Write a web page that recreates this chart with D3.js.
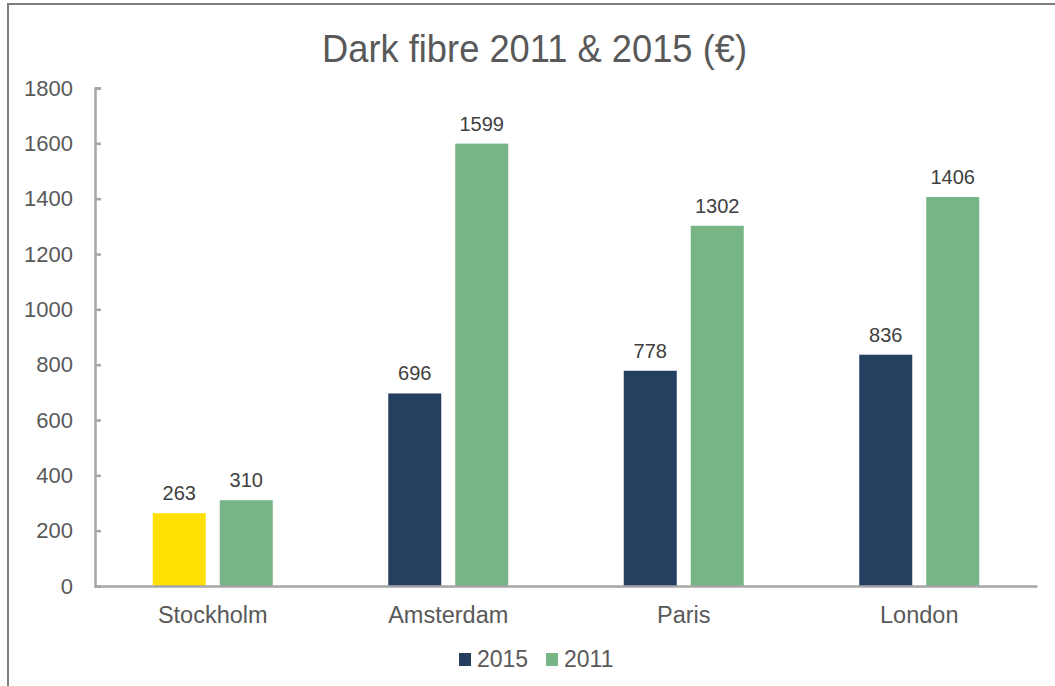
<!DOCTYPE html>
<html>
<head>
<meta charset="utf-8">
<script src="https://cdn.jsdelivr.net/npm/d3@7"></script>
<style>
  html, body { margin: 0; padding: 0; background: #fff; }
  svg { display: block; font-family: "Liberation Sans", Arial, sans-serif; }
</style>
</head>
<body>
<svg id="chart" width="1055" height="686"></svg>
<script>
// Dark fibre prices per city, 2015 vs 2011 (€)
const cities = ["Stockholm", "Amsterdam", "Paris", "London"];
const seriesNames = ["2015", "2011"];
const values2015 = [263, 696, 778, 836];
const values2011 = [310, 1599, 1302, 1406];
const yTicks = [0, 200, 400, 600, 800, 1000, 1200, 1400, 1600, 1800];

const colors = { "2015": "#243F60", "2011": "#77B486" };
const highlight = { city: "Stockholm", series: "2015", color: "#FFE000" };

const svg = d3.select("#chart");
const W = 1055, H = 686;
const plot = { left: 95, right: 1037, top: 88, bottom: 586 };
const FONT = "Liberation Sans, Arial, sans-serif";

// outer frame (top and left edges)
svg.append("line").attr("x1", 7).attr("x2", W).attr("y1", 4).attr("y2", 4)
  .attr("stroke", "#7f7f7f").attr("stroke-width", 2);
svg.append("line").attr("x1", 8).attr("x2", 8).attr("y1", 3).attr("y2", H)
  .attr("stroke", "#7f7f7f").attr("stroke-width", 2);

// title
svg.append("text").attr("x", 322).attr("y", 62)
  .attr("font-size", 39).attr("fill", "#595959")
  .attr("textLength", 425).attr("lengthAdjust", "spacingAndGlyphs")
  .text("Dark fibre 2011 & 2015 (€)");

const x0 = d3.scaleBand().domain(cities).range([plot.left, plot.right]);
const x1 = d3.scaleBand().domain(seriesNames)
  .range([x0.bandwidth() / 2 - 60, x0.bandwidth() / 2 + 60]).paddingInner(0.209);
const y = d3.scaleLinear().domain([0, 1800]).range([plot.bottom, plot.top]);

const rows = cities.map((c, i) => ({ city: c, "2015": values2015[i], "2011": values2011[i] }));

// y axis
const yAxis = svg.append("g").attr("transform", `translate(${plot.left},0)`)
  .call(d3.axisLeft(y).tickValues(yTicks).tickFormat(d3.format("d"))
    .tickSizeInner(-6).tickSizeOuter(-6).tickPadding(22));
yAxis.select(".domain").attr("stroke", "#a6a6a6").attr("stroke-width", 2.5);
yAxis.selectAll(".tick line").attr("stroke", "#a6a6a6").attr("stroke-width", 2.5);
yAxis.selectAll(".tick text").attr("font-size", 22).attr("fill", "#595959")
  .attr("font-family", FONT);

// bars
const groups = svg.append("g").selectAll("g").data(rows).join("g")
  .attr("transform", d => `translate(${x0(d.city)},0)`);

groups.selectAll("rect").data(d => seriesNames.map(s => ({ city: d.city, s, v: d[s] })))
  .join("rect")
  .attr("x", d => x1(d.s))
  .attr("width", x1.bandwidth())
  .attr("y", d => y(d.v))
  .attr("height", d => y(0) - y(d.v))
  .attr("fill", d => (d.city === highlight.city && d.s === highlight.series) ? highlight.color : colors[d.s]);

groups.selectAll("text.val").data(d => seriesNames.map(s => ({ s, v: d[s] })))
  .join("text").attr("class", "val")
  .attr("x", d => x1(d.s) + x1.bandwidth() / 2)
  .attr("y", d => y(d.v) - 13)
  .attr("text-anchor", "middle")
  .attr("font-size", 20).attr("fill", "#404040")
  .text(d => d.v);

// x axis
const xAxis = svg.append("g").attr("transform", `translate(0,${plot.bottom})`)
  .call(d3.axisBottom(x0).tickSize(0).tickPadding(20));
xAxis.select(".domain").attr("stroke", "#a6a6a6").attr("stroke-width", 2.5);
xAxis.selectAll(".tick text").attr("font-size", 23.5).attr("fill", "#595959")
  .attr("font-family", FONT);

// legend
const legend = svg.append("g");
const legendItems = [{ s: "2015", x: 459 }, { s: "2011", x: 546 }];
legendItems.forEach(it => {
  legend.append("rect").attr("x", it.x).attr("y", 653).attr("width", 12).attr("height", 13)
    .attr("fill", colors[it.s]);
  legend.append("text").attr("x", it.x + 18).attr("y", 667).attr("font-size", 23)
    .attr("fill", "#595959").text(it.s);
});
</script>
</body>
</html>
